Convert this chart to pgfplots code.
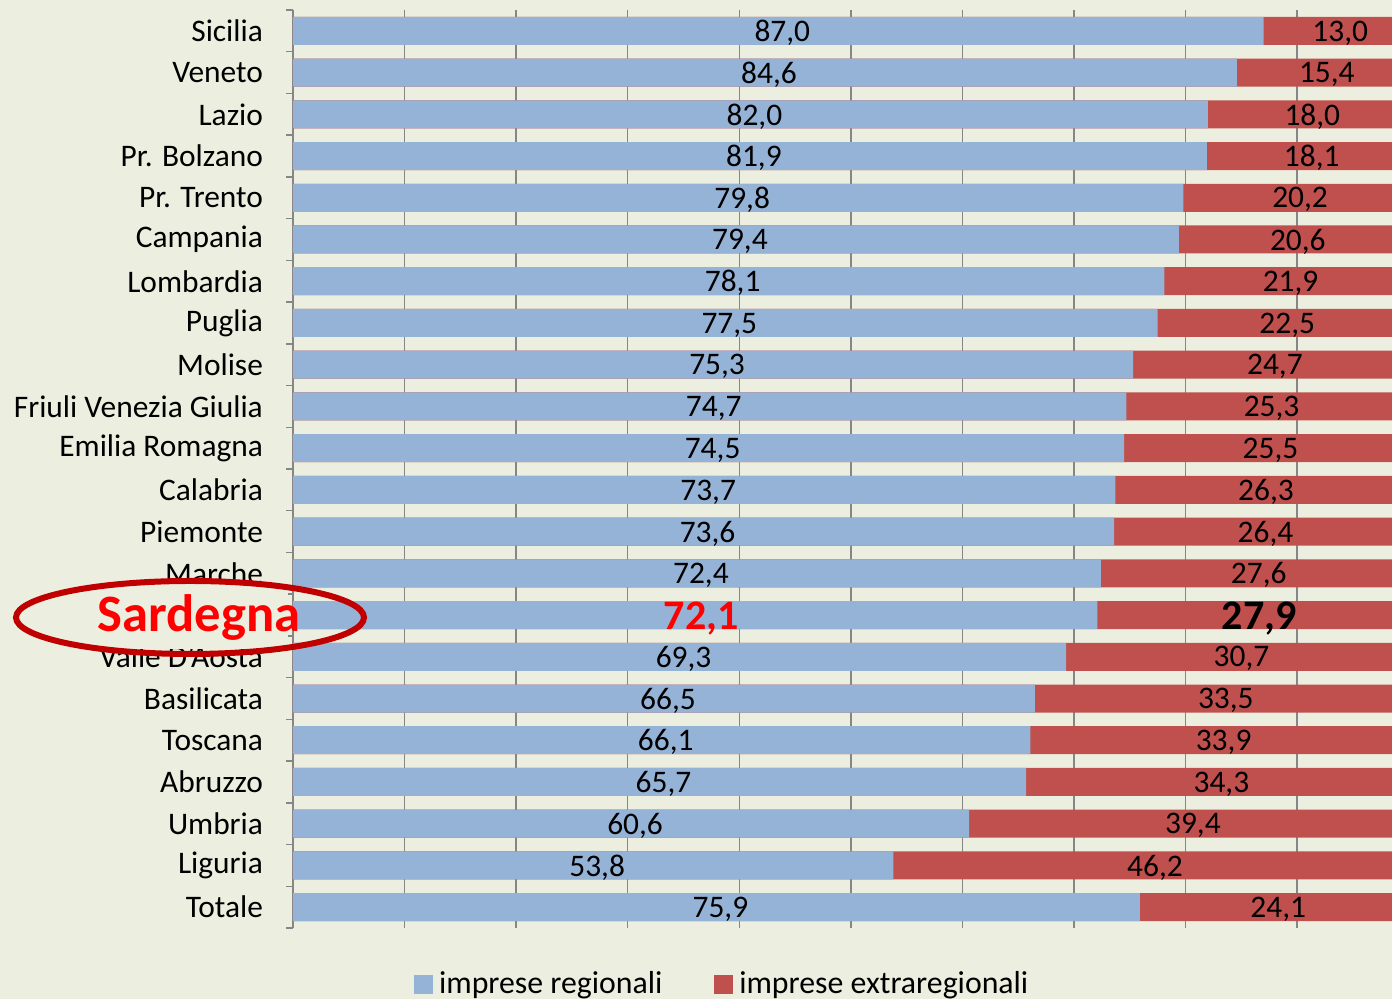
\documentclass[border=0pt]{standalone}
\usepackage{pgfplots}
\pgfplotsset{compat=1.18}
\usepackage{pgfplotstable}
\usepackage{fontspec}
\setmainfont{Carlito}
\definecolor{bg}{HTML}{ECEFDF}
\definecolor{barblue}{HTML}{95B3D7}
\definecolor{barred}{HTML}{C0504D}
\definecolor{gridgray}{HTML}{868686}
\definecolor{ellred}{HTML}{C00000}
\definecolor{txtred}{HTML}{FF0000}

\pgfplotstableread{
reg ext
87.0 13.0
84.6 15.4
82.0 18.0
81.9 18.1
79.8 20.2
79.4 20.6
78.1 21.9
77.5 22.5
75.3 24.7
74.7 25.3
74.5 25.5
73.7 26.3
73.6 26.4
72.4 27.6
72.1 27.9
69.3 30.7
66.5 33.5
66.1 33.9
65.7 34.3
60.6 39.4
53.8 46.2
75.9 24.1
}\data

\newcommand{\numfmt}{\pgfmathprintnumber[fixed,fixed zerofill,precision=1,use comma,assume math mode=true]{\pgfplotspointmeta}}

\begin{document}
\begin{tikzpicture}
\fill[bg] (0,0) rectangle (696pt,499.5pt);
\useasboundingbox (0,0) rectangle (696pt,499.5pt);
\begin{axis}[
 at={(146.5pt,35.5pt)}, anchor=south west,
 scale only axis, width=549.5pt, height=459pt,
 xbar, bar width=14pt, bar shift=0pt,
 xmin=0, xmax=98.5, ymin=-0.5, ymax=21.5, y dir=reverse,
 separate axis lines,
 axis x line*=bottom, x axis line style={draw=none},
 axis y line*=left, y axis line style={draw=gridgray, line width=0.75pt},
 xtick={10,20,...,90}, xticklabels={}, major x tick style={draw=none},
 xmajorgrids, major x grid style={draw=gridgray, line width=0.75pt},
 ytick={0,...,21},
 yticklabels={Sicilia,Veneto,Lazio,Pr. Bolzano,Pr. Trento,Campania,Lombardia,Puglia,Molise,Friuli Venezia Giulia,Emilia Romagna,Calabria,Piemonte,Marche,{},Valle D'Aosta,Basilicata,Toscana,Abruzzo,Umbria,Liguria,Totale},
 minor ytick={-0.5,0.5,...,21.5},
 major y tick style={draw=none}, minor y tick style={draw=gridgray, line width=0.75pt},
 tick align=outside, major tick length=0pt, minor tick length=3.5pt,
 yticklabel style={font=\fontsize{15.7}{18}\selectfont, text=black, xshift=-11.5pt},
 legend columns=2,
 legend style={draw=none, fill=none, at={(0.110,-0.061)}, anchor=west, inner sep=0pt,
   font=\fontsize{15.9}{18}\selectfont,
   nodes={inner xsep=3pt},
   /tikz/every even column/.append style={column sep=23pt}},
]
\addlegendimage{legend image code/.code={\fill[barblue] (0pt,-4.5pt) rectangle (9pt,4.5pt);}}
\addlegendentry{imprese regionali}
\addlegendimage{legend image code/.code={\fill[barred] (0pt,-4.5pt) rectangle (9pt,4.5pt);}}
\addlegendentry{imprese extraregionali}

\addplot[forget plot, fill=barred, draw=none] table[x expr=\thisrow{reg}+\thisrow{ext}, y expr=\coordindex]{\data};
\addplot[forget plot, fill=barblue, draw=none] table[x=reg, y expr=\coordindex]{\data};

% value labels (regular rows)
\addplot[forget plot, sharp plot, draw=none, mark=none,
  x filter/.expression={\coordindex==14 ? nan : x},
  point meta=explicit, nodes near coords={\numfmt}, nodes near coords align={center},
  every node near coord/.append style={anchor=center, inner sep=0pt, xshift=2pt, yshift=-1pt, text=black, font=\fontsize{15.7}{18}\selectfont}]
  table[x expr=\thisrow{reg}/2, y expr=\coordindex, meta=reg]{\data};
\addplot[forget plot, sharp plot, draw=none, mark=none,
  x filter/.expression={\coordindex==14 ? nan : x},
  point meta=explicit, nodes near coords={\numfmt}, nodes near coords align={center},
  every node near coord/.append style={anchor=center, inner sep=0pt, xshift=2pt, yshift=-1pt, text=black, font=\fontsize{15.7}{18}\selectfont}]
  table[x expr=\thisrow{reg}+\thisrow{ext}/2, y expr=\coordindex, meta=ext]{\data};

% Sardegna labels
\addplot[forget plot, sharp plot, draw=none, mark=none,
  x filter/.expression={\coordindex==14 ? x : nan},
  point meta=explicit, nodes near coords={\numfmt}, nodes near coords align={center},
  every node near coord/.append style={anchor=center, inner sep=0pt, xshift=3pt, yshift=-2pt, text=txtred, font=\bfseries\fontsize{21}{24}\selectfont}]
  table[x expr=\thisrow{reg}/2, y expr=\coordindex, meta=reg]{\data};
\addplot[forget plot, sharp plot, draw=none, mark=none,
  x filter/.expression={\coordindex==14 ? x : nan},
  point meta=explicit, nodes near coords={\numfmt}, nodes near coords align={center},
  every node near coord/.append style={anchor=center, inner sep=0pt, xshift=3pt, yshift=-2pt, text=black, font=\bfseries\fontsize{21}{24}\selectfont}]
  table[x expr=\thisrow{reg}+\thisrow{ext}/2, y expr=\coordindex, meta=ext]{\data};
\end{axis}
\fill[bg] (12.5pt,175pt) rectangle (144pt,209pt);
\node[anchor=base, inner sep=0pt, text=txtred, font=\bfseries\fontsize{26.3}{30}\selectfont] at (99.5pt,183.5pt) {Sardegna};
\draw[ellred, line width=3pt] (95pt,190.75pt) ellipse [x radius=87pt, y radius=18.25pt];
\end{tikzpicture}
\end{document}
